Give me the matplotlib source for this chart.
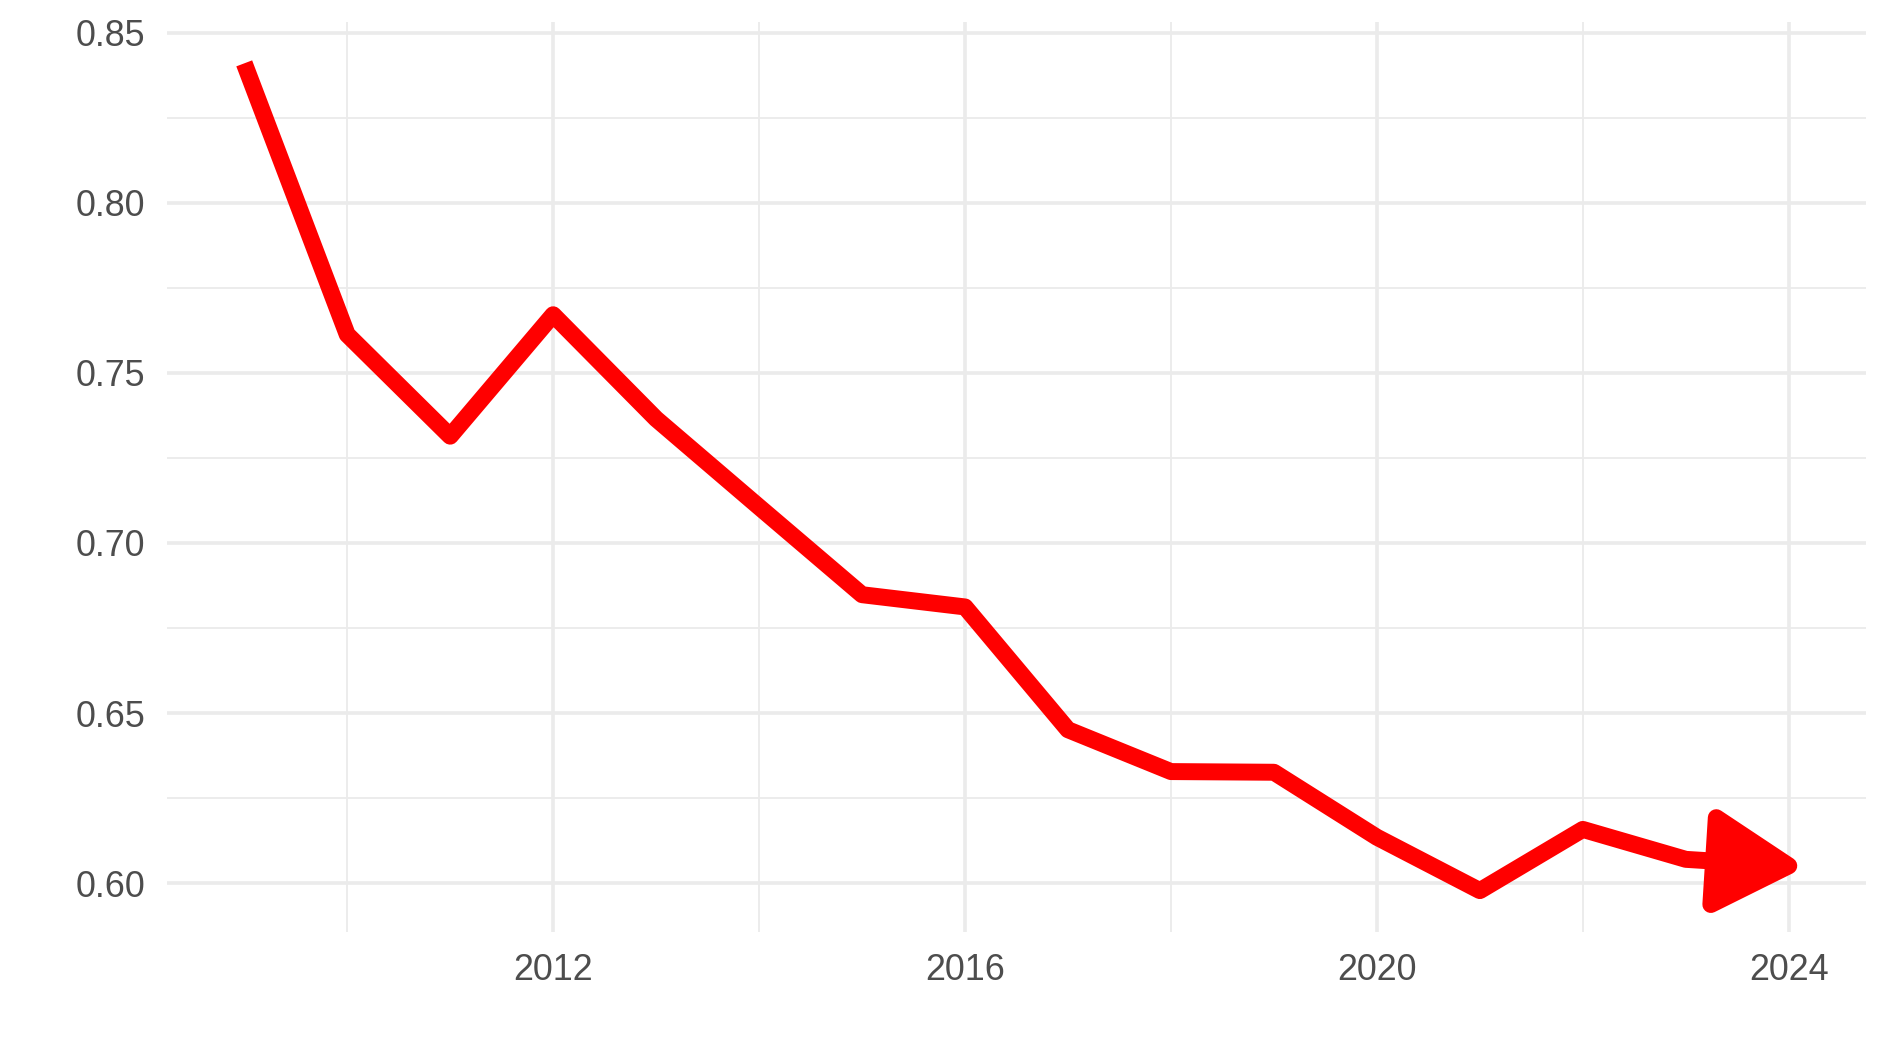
import numpy as np
import matplotlib
matplotlib.use("Agg")
import matplotlib.pyplot as plt
from matplotlib.patches import Polygon
from matplotlib.transforms import IdentityTransform

# ---- data ----
years = [2009, 2010, 2011, 2012, 2013, 2014, 2015, 2016,
         2017, 2018, 2019, 2020, 2021, 2022, 2023, 2024]
values = [0.841, 0.7613, 0.7314, 0.7671, 0.7365, 0.7106, 0.6848, 0.6812,
          0.6451, 0.6328, 0.6326, 0.6135, 0.5978, 0.6158, 0.6070, 0.6051]
x_ticks = [2012, 2016, 2020, 2024]
x_minor = [2010, 2014, 2018, 2022]
y_ticks = [0.60, 0.65, 0.70, 0.75, 0.80, 0.85]
y_minor = [0.625, 0.675, 0.725, 0.775, 0.825]
y_labels = ["0.60", "0.65", "0.70", "0.75", "0.80", "0.85"]

DPI = 100
W, H = 1889, 1062
plt.rcParams['font.family'] = ['Liberation Sans', 'DejaVu Sans']

fig = plt.figure(figsize=(W / DPI, H / DPI), dpi=DPI)
fig.patch.set_facecolor('white')
ax = fig.add_axes([167 / W, 1 - 932 / H, (1866 - 167) / W, (932 - 22) / H])

# limits with ggplot-like 5% expansion
xr = max(years) - min(years)
ax.set_xlim(min(years) - 0.05 * xr, max(years) + 0.05 * xr)
yr = max(values) - min(values)
ax.set_ylim(min(values) - 0.05 * yr, max(values) + 0.05 * yr)

for s in ax.spines.values():
    s.set_visible(False)

grid_col = '#EBEBEB'
major_lw = 2.6
minor_lw = 1.3
for xv in x_minor:
    ax.axvline(xv, color=grid_col, lw=minor_lw, zorder=0)
for yv in y_minor:
    ax.axhline(yv, color=grid_col, lw=minor_lw, zorder=0)
for xv in x_ticks:
    ax.axvline(xv, color=grid_col, lw=major_lw, zorder=0)
for yv in y_ticks:
    ax.axhline(yv, color=grid_col, lw=major_lw, zorder=0)

ax.set_xticks(x_ticks)
ax.set_xticklabels([str(t) for t in x_ticks])
ax.set_yticks(y_ticks)
ax.set_yticklabels(y_labels)
ax.tick_params(axis='both', length=0, labelsize=25.8, labelcolor='#4D4D4D')
ax.tick_params(axis='x', pad=15.2)
ax.tick_params(axis='y', pad=15.6)

line_lw = 12.2  # points
ax.plot(years, values, color='#FF0000', lw=line_lw,
        solid_joinstyle='round', solid_capstyle='butt', zorder=3)

# closed arrow head at the last point (built in display space)
p_tip = ax.transData.transform((years[-1], values[-1]))
p_prev = ax.transData.transform((years[-2], values[-2]))
d = p_tip - p_prev
d = d / np.hypot(*d)
n = np.array([-d[1], d[0]])
L = 87.0
ang = np.deg2rad(30)
back = p_tip - L * np.cos(ang) * d
c1 = back + L * np.sin(ang) * n
c2 = back - L * np.sin(ang) * n
head = Polygon([p_tip, c1, c2], closed=True, transform=IdentityTransform(),
               facecolor='#FF0000', edgecolor='#FF0000', lw=line_lw,
               joinstyle='round', zorder=4)
fig.patches.append(head)
head.set_figure(fig)

fig.savefig('out.png', dpi=DPI, facecolor='white')
